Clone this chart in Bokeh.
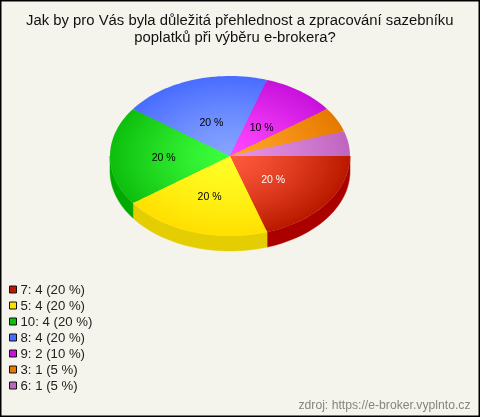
import math
from bokeh.plotting import figure
from bokeh.models import Range1d
from bokeh.core.properties import value
from bokeh.embed import file_html
from bokeh.resources import INLINE

title_lines = ["Jak by pro Vás byla důležitá přehlednost a zpracování sazebníku", "poplatků při výběru e-brokera?"]
categories = ["7", "5", "10", "8", "9", "3", "6"]
counts = [4, 4, 4, 4, 2, 1, 1]
percents = [20, 20, 20, 20, 10, 5, 5]
outer_colors = ["#bb1a00", "#ffe000", "#0ebf0e", "#4a6dff", "#c812dc", "#e67a00", "#bf66bf"]
inner_colors = ["#ff5a3c", "#ffff28", "#3cff3c", "#86a4ff", "#ff46ff", "#ffa428", "#e692e6"]
side_colors = ["#aa0000", "#e4cd00", "#00aa00", "#3355cc", "#a000b0", "#c06000", "#a050a0"]
label_colors = ["white", "black", "black", "black", "black", None, None]
label_radius = [0.46, 0.51, 0.54, 0.46, 0.47, 0, 0]
source_text = "zdroj: https://e-broker.vyplnto.cz"

W, H = 480, 417
CX, CY, RX, RY, DEPTH = 229.5, 155.5, 120, 80, 15
RINGS = 36

p = figure(width=W, height=H, x_range=Range1d(0, W), y_range=Range1d(H, 0),
           toolbar_location=None, output_backend="svg", min_border=0,
           background_fill_color="#f5f4ec", border_fill_color="#f5f4ec",
           outline_line_color="#000000", outline_line_width=2)
p.axis.visible = False
p.grid.visible = False
p.styles = {"position": "fixed", "left": "0px", "top": "0px"}

def hex_rgb(h):
    return tuple(int(h[i:i + 2], 16) for i in (1, 3, 5))

def mix(a, b, t):
    ca, cb = hex_rgb(a), hex_rgb(b)
    return "#%02x%02x%02x" % tuple(round(x + (y - x) * t) for x, y in zip(ca, cb))

total = sum(counts)
bounds = [0]
for c in counts:
    bounds.append(bounds[-1] + c / total * 2 * math.pi)

# side wall
sx, sy, sc = [], [], []
for i in range(len(counts)):
    a0, a1 = bounds[i], min(bounds[i + 1], math.pi)
    if a0 >= math.pi:
        continue
    steps = 40
    angs = [a0 + (a1 - a0) * k / steps for k in range(steps + 1)]
    xs = [CX + RX * math.cos(a) for a in angs]
    top = [CY + RY * math.sin(a) for a in angs]
    sx.append(xs + xs[::-1])
    sy.append([t + DEPTH for t in top] + top[::-1])
    sc.append(side_colors[i])
p.patches(sx, sy, fill_color=sc, line_color=sc, line_width=0.5)

# top face: radial shading
px, py, pc = [], [], []
for ring in range(RINGS):
    f = 1 - ring / RINGS
    for i in range(len(counts)):
        a0, a1 = bounds[i], bounds[i + 1]
        steps = max(4, int((a1 - a0) * 30))
        angs = [a0 + (a1 - a0) * k / steps for k in range(steps + 1)]
        px.append([CX] + [CX + RX * f * math.cos(a) for a in angs])
        py.append([CY] + [CY + RY * f * math.sin(a) for a in angs])
        pc.append(mix(inner_colors[i], outer_colors[i], f ** 1.3))
p.patches(px, py, fill_color=pc, line_color=None)

# slice labels
lx, ly, lt, lc = [], [], [], []
for i, pct in enumerate(percents):
    if label_colors[i] is None:
        continue
    m = (bounds[i] + bounds[i + 1]) / 2
    lx.append(CX - 1.5 + label_radius[i] * RX * math.cos(m))
    ly.append(CY + 1 + label_radius[i] * RY * math.sin(m))
    lt.append(f"{pct} %")
    lc.append(label_colors[i])
p.text(lx, ly, text=lt, text_color=lc, text_font=value("Liberation Sans"), text_font_size="10.5px",
       text_align="center", text_baseline="middle")

# title
p.text([239.3, 234.5], [19.5, 36.5], text=title_lines, text_color="#111111", text_font=value("Liberation Sans"),
       text_font_size="14.85px", text_align="center", text_baseline="middle")

# legend
ys = [289 + 16 * i for i in range(len(categories))]
p.rect([12.5] * len(ys), ys, width=7, height=7, fill_color=outer_colors, line_color="#111111", line_width=1)
leg = [f"{c}: {n} ({q} %)" for c, n, q in zip(categories, counts, percents)]
p.text([20] * len(ys), ys, text=leg, text_color="#222222", text_font=value("Liberation Sans"),
       text_font_size="13.2px", text_align="left", text_baseline="middle")

# source
p.text([470], [404], text=[source_text], text_color="#85857d", text_font=value("Liberation Sans"),
       text_font_size="12.2px", text_align="right", text_baseline="middle")

open("out.html", "w").write(file_html(p, INLINE))
